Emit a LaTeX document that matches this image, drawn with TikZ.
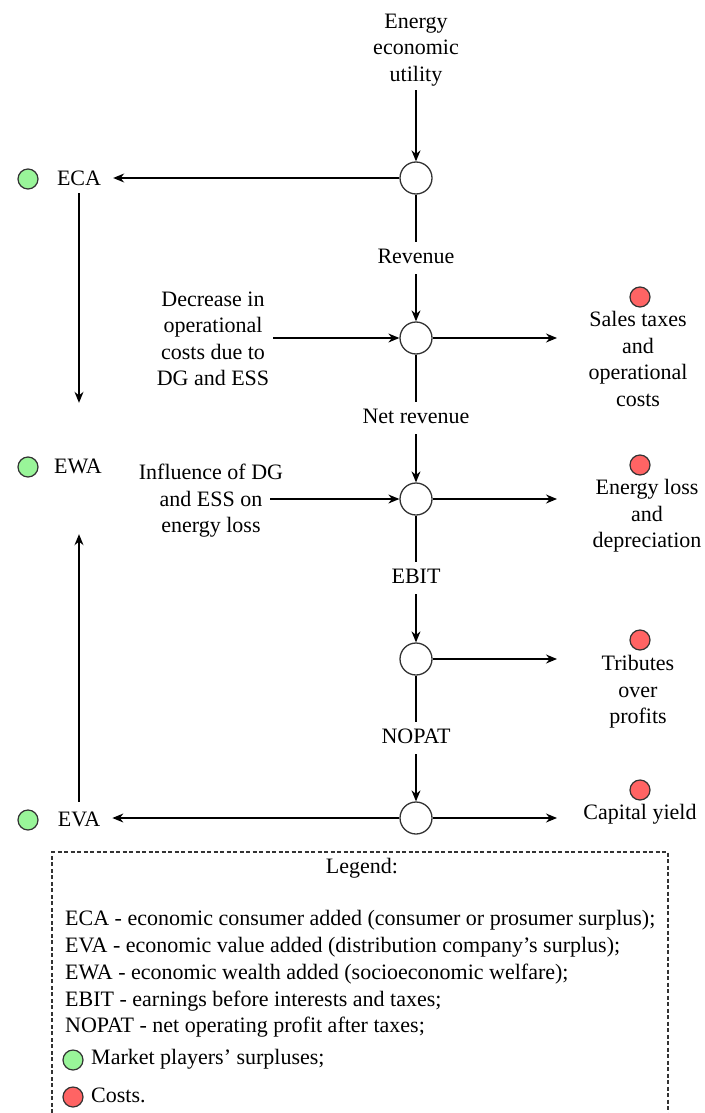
\documentclass[tikz,border=0pt]{standalone}
\usepackage{fontspec}
\setmainfont{Liberation Serif}[Ligatures=ResetAll]
\usetikzlibrary{arrows.meta}
\definecolor{gfill}{HTML}{99F599}
\definecolor{rfill}{HTML}{FF6464}
\definecolor{edge}{HTML}{333333}
\begin{document}
\begin{tikzpicture}[x=1pt,y=-1pt,
  every node/.style={font=\fontsize{22}{26.4}\selectfont},
  txt/.style={align=center, inner sep=2pt},
  junc/.style={circle, draw=edge, line width=1.3pt, fill=white, minimum size=32pt, inner sep=0pt},
  gdot/.style={circle, draw=edge, fill=gfill, line width=1.2pt, minimum size=20pt, inner sep=0pt},
  rdot/.style={circle, draw=edge, fill=rfill, line width=1.2pt, minimum size=20pt, inner sep=0pt},
  flow/.style={-{Stealth[length=11pt,width=9pt]}, line width=1.3pt},
  plainline/.style={line width=1.3pt},
  lbl/.style={inner xsep=3pt, inner ysep=6pt, text height=15pt, text depth=5pt},
  sideterm/.style={inner xsep=12pt, inner ysep=3pt, text height=15pt, text depth=5pt},
  legline/.style={anchor=west, inner sep=0pt, text height=15pt, text depth=5pt},
  legbox/.style={draw=edge, line width=1.2pt, dash pattern=on 4pt off 2.5pt}
]
\useasboundingbox (0,0) rectangle (704,1113);

% main column
\node[txt, inner sep=4pt] (top) at (416,50) {Energy\\economic\\utility};
\node[junc] (c1) at (416,178) {};
\node[junc] (c2) at (416,338) {};
\node[junc] (c3) at (416,499) {};
\node[junc] (c4) at (416,659) {};
\node[junc] (c5) at (416,818) {};

\node[lbl] (rev) at (416,258) {Revenue};
\node[lbl] (netrev) at (416,418) {Net revenue};
\node[lbl] (ebit) at (416,578) {EBIT};
\node[lbl] (nopat) at (416,738) {NOPAT};

\draw[flow] (top.south) -- (c1);
\draw[plainline] (c1) -- (rev);
\draw[flow] (rev) -- (c2);
\draw[plainline] (c2) -- (netrev);
\draw[flow] (netrev) -- (c3);
\draw[plainline] (c3) -- (ebit);
\draw[flow] (ebit) -- (c4);
\draw[plainline] (c4) -- (nopat);
\draw[flow] (nopat) -- (c5);

% left side: surpluses
\node[sideterm] (eca) at (79,180) {ECA};
\node[sideterm] (ewa) at (78,468) {EWA};
\node[sideterm] (eva) at (79,821) {EVA};
\node[gdot] (g1) at (28,179) {};
\node[gdot] (g2) at (28,467) {};
\node[gdot] (g3) at (28,820) {};

\draw[flow] (c1) -- (c1 -| eca.east);
\draw[flow] (c5) -- (c5 -| eva.east);
\draw[flow, shorten >=52pt] (eca.south) -- (eca.south |- ewa.north);
\draw[flow, shorten >=53pt, shorten <=6pt] (eva.north -| eca.south) -- (ewa.south -| eca.south);

% left side: inputs
\node[txt, inner sep=4pt] (dec) at (213,339) {Decrease in\\operational\\costs due to\\DG and ESS};
\node[txt] (infl) at (211,501) {Influence of DG\\and ESS on\\energy loss};
\draw[flow] (dec.east |- c2) -- (c2);
\draw[flow] ([xshift=-15pt]infl.east |- c3) -- (c3);

% right side: costs
\coordinate (r2) at (557,338);
\coordinate (r3) at (557,499);
\coordinate (r4) at (557,659);
\coordinate (r5) at (557,818);
\draw[flow] (c2) -- (r2);
\draw[flow] (c3) -- (r3);
\draw[flow] (c4) -- (r4);
\draw[flow] (c5) -- (r5);

\node[rdot] (d1) at (640,297) {};
\node[rdot] (d2) at (640,465) {};
\node[rdot] (d3) at (640,640) {};
\node[rdot] (d4) at (640,790) {};
\node[txt] (sales) at (638,359) {Sales taxes\\and\\operational\\costs};
\node[txt] (eloss) at (647,516) {Energy loss\\and\\depreciation};
\node[txt] (trib) at (638,692) {Tributes\\over\\profits};
\node[lbl] (cap) at (640,814) {Capital yield};

% legend
\draw[legbox] (52,1113) -- (52,852) -- (668,852) -- (668,1113);
\node[lbl] (legt) at (362,868) {Legend:};
\node[legline] (l1) at (65,920) {ECA - economic consumer added (consumer or prosumer surplus);};
\node[legline] (l2) at (65,947) {EVA - economic value added (distribution company's surplus);};
\node[legline] (l3) at (65,974) {EWA - economic wealth added (socioeconomic welfare);};
\node[legline] (l4) at (65,1001) {EBIT - earnings before interests and taxes;};
\node[legline] (l5) at (65,1027) {NOPAT - net operating profit after taxes;};
\node[gdot] (lg) at (73,1060) {};
\node[legline] (l6) at (91,1059) {Market players' surpluses;};
\node[rdot] (lr) at (73,1097) {};
\node[legline] (l7) at (91,1097) {Costs.};
\end{tikzpicture}
\end{document}
